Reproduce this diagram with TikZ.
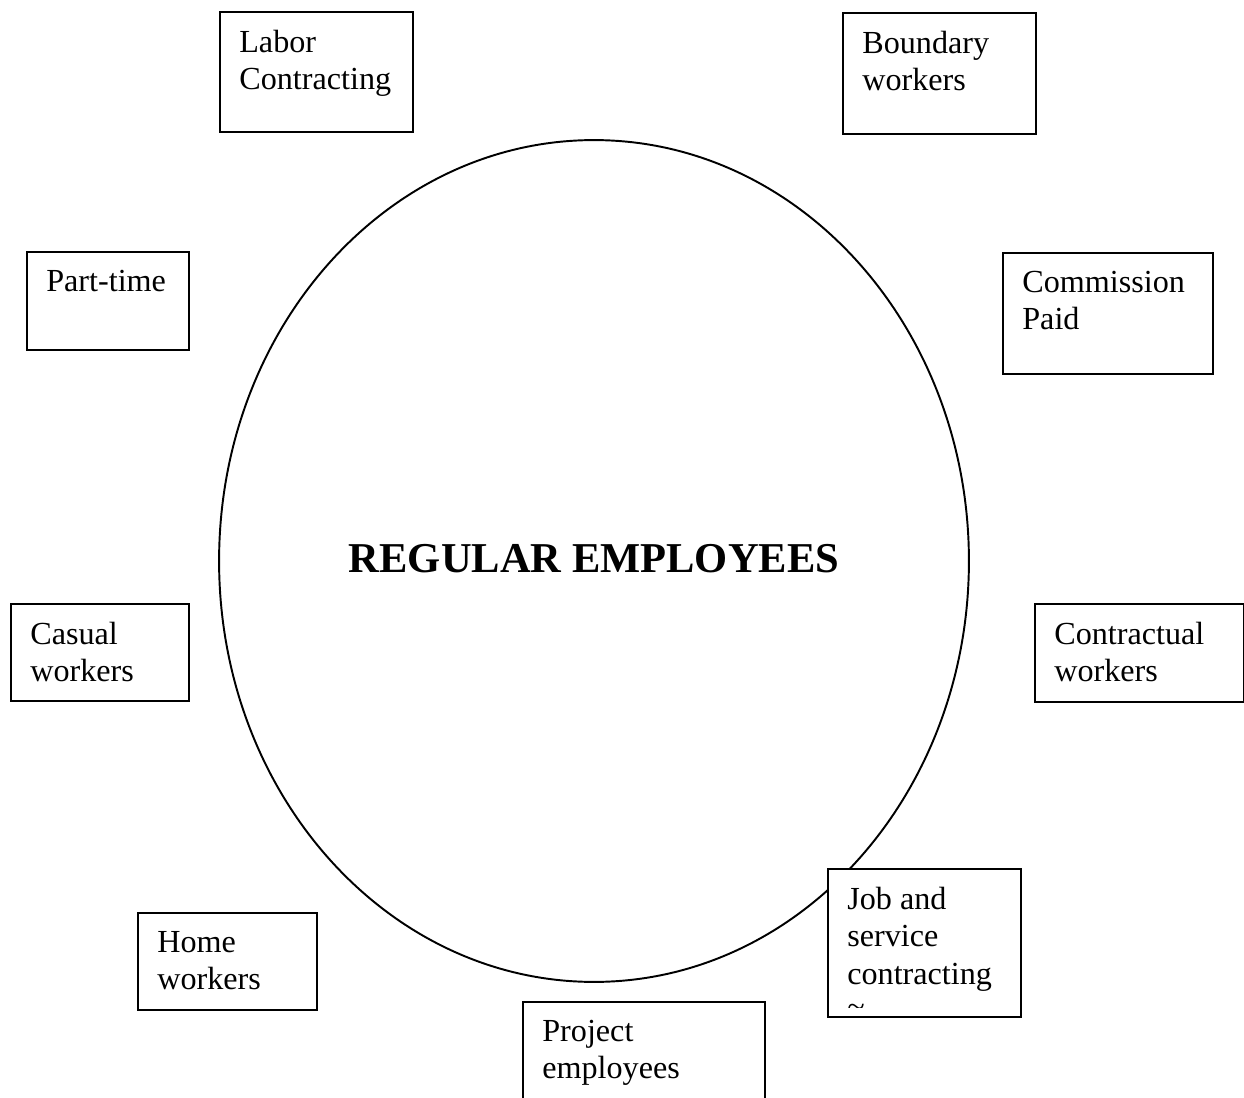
\documentclass[tikz,border=0pt]{standalone}
\usepackage{fontspec}
\setmainfont{Liberation Serif}

\tikzset{
  catbox/.style={draw, line width=1.1pt, fill=white, inner sep=0pt, anchor=north west},
  cattext/.style={anchor=north west, inner sep=0pt, align=left,
    font=\fontsize{18.3}{21.2}\selectfont},
  core/.style={font=\fontsize{24.2}{28}\selectfont\bfseries, inner sep=0pt, anchor=base},
}

% box at (x,y) of size w x h with its text set in the upper left corner
\newcommand{\category}[6]{%
  \node[catbox, minimum width=#4*0.02cm, minimum height=#5*0.02cm] (#1) at (#2,#3) {};
  \node[cattext] (#1-txt) at ([xshift=0.4cm,yshift=-0.38cm]#1.north west) {#6};
}

\begin{document}
\begin{tikzpicture}[x=0.02cm, y=-0.02cm]
	\useasboundingbox (0,0) rectangle (1244,1098);

	% centre
	\draw[line width=1.1pt] (594,561) ellipse [x radius=7.5cm, y radius=8.42cm];
	\node[core] (regular) at (594,572) {REGULAR EMPLOYEES};

	% the forms around it
	\category{labor}{219}{11}{193}{120}{Labor\\Contracting}
	\category{boundary}{842}{12}{193}{121}{Boundary\\workers}
	\category{parttime}{26}{251}{162}{98}{Part-time}
	\category{commission}{1002}{252}{210}{121}{Commission\\Paid}
	\category{casual}{10}{603}{178}{97}{Casual\\workers}
	\category{contractual}{1034}{603}{209}{98}{Contractual\\workers}
	\category{home}{137}{912}{179}{97}{Home\\workers}
	\category{job}{827}{868}{193}{148}{Job and\\service\\contracting}
	\category{project}{522}{1001}{242}{120}{Project\\employees}

	% last line of the job box runs out of the frame
	\begin{scope}
	\clip (827,868) rectangle (1020,1007);
	\node[cattext] (job-cut) at ([yshift=-0.24cm]job-txt.south west) {\textasciitilde};
	\end{scope}
\end{tikzpicture}
\end{document}
